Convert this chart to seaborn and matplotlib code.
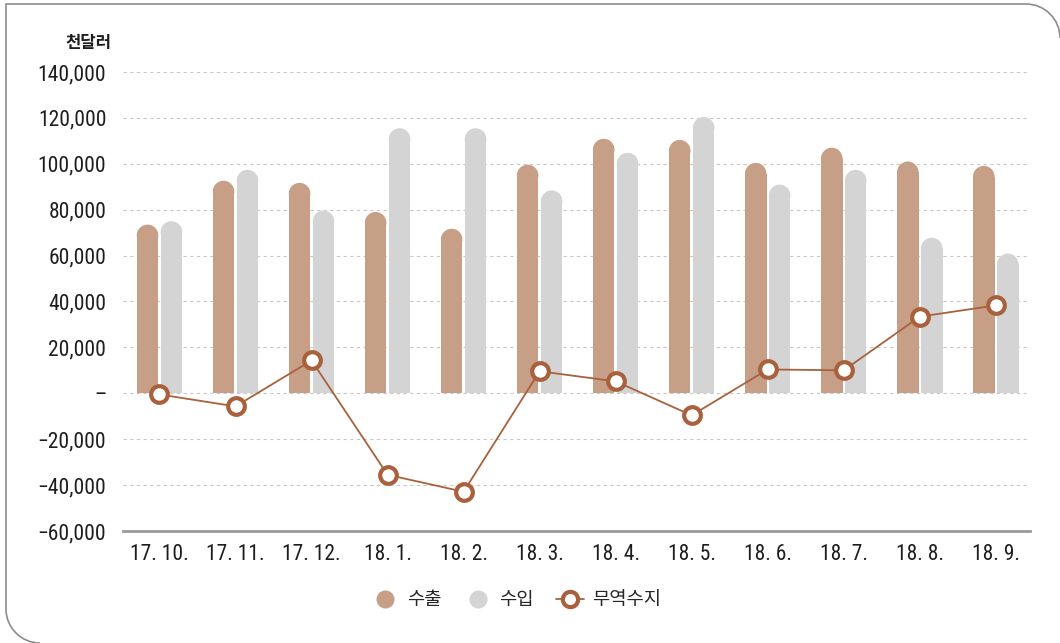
import numpy as np
import pandas as pd
import matplotlib
matplotlib.use("Agg")
import matplotlib.pyplot as plt
from matplotlib.patches import Ellipse, Rectangle, PathPatch
from matplotlib.path import Path
from matplotlib.lines import Line2D
from matplotlib.ticker import FuncFormatter
import seaborn as sns

# 월별 수출입 실적 (천달러)
months = ["17. 10.", "17. 11.", "17. 12.", "18. 1.", "18. 2.", "18. 3.",
          "18. 4.", "18. 5.", "18. 6.", "18. 7.", "18. 8.", "18. 9."]
exports = [73500, 92600, 91700, 79000, 71700, 99600,
           110900, 110400, 100400, 107000, 101000, 99100]
imports = [75000, 97400, 79600, 115500, 115500, 88400,
           104800, 120400, 90900, 97400, 67800, 60900]
balance = [-500, -5700, 14300, -35500, -42900, 9600,
           5200, -9600, 10400, 10000, 33400, 38300]

series_names = ["수출", "수입", "무역수지"]
unit_label = "천달러"
y_ticks = [-60000, -40000, -20000, 0, 20000, 40000, 60000, 80000,
           100000, 120000, 140000]

EXP_COLOR = "#C69F86"
IMP_COLOR = "#D4D4D4"
LINE_COLOR = "#A9613D"
TEXT_COLOR = "#1E1E1E"
KR_FONT = ["Noto Sans CJK KR", "DejaVu Sans"]

sns.set_theme(style="white")
plt.rcParams["font.family"] = ["Roboto Condensed", "Noto Sans CJK KR", "DejaVu Sans"]
plt.rcParams["axes.unicode_minus"] = True

W, H = 1060, 643
fig = plt.figure(figsize=(W / 100, H / 100), dpi=100)
ax = fig.add_axes([123 / W, 1 - 531 / H, (1030 - 123) / W, (531 - 72) / H])

df = pd.DataFrame({
    "month": months * 2,
    "value": exports + imports,
    "kind": [series_names[0]] * len(months) + [series_names[1]] * len(months),
})
sns.barplot(data=df, x="month", y="value", hue="kind",
            palette=[EXP_COLOR, IMP_COLOR], width=0.63, gap=0.1,
            ax=ax, legend=False, saturation=1)

ax.set_xlim(-0.48, 11.45)
ax.set_ylim(-60000, 140000)

# 막대 윗부분을 둥글게 다시 그림
fig.canvas.draw()
px_per_y = (ax.transData.transform((0, 1000))[1]
            - ax.transData.transform((0, 0))[1]) / 1000.0
for p in list(ax.patches):
    x0 = p.get_x()
    w = p.get_width()
    h = p.get_height()
    color = p.get_facecolor()
    px_w = ax.transData.transform((w, 0))[0] - ax.transData.transform((0, 0))[0]
    r_y = (px_w / 2) / px_per_y
    p.set_visible(False)
    ax.add_patch(Rectangle((x0, 0), w, h - r_y, facecolor=color,
                           edgecolor="none", zorder=2))
    ax.add_patch(Ellipse((x0 + w / 2, h - r_y), w, 2 * r_y, facecolor=color,
                         edgecolor="none", zorder=2))

# 무역수지 선
xs = np.arange(len(months))
sns.lineplot(x=xs, y=balance, ax=ax, color=LINE_COLOR, linewidth=1.3,
             marker="o", markersize=12, markerfacecolor="white",
             markeredgecolor=LINE_COLOR, markeredgewidth=3, zorder=5)

# 격자선과 축
ax.set_yticks(y_ticks)
ax.yaxis.grid(True, linestyle=(0, (3, 3)), color="#C8C8C8", linewidth=0.8)
ax.set_axisbelow(True)
for s in ["top", "right", "left"]:
    ax.spines[s].set_visible(False)
ax.spines["bottom"].set_color("#9A9A9A")
ax.spines["bottom"].set_linewidth(2)


def fmt(v, pos):
    if v == 0:
        return "–"
    s = f"{abs(int(v)):,}"
    return ("−" + s) if v < 0 else s


ax.yaxis.set_major_formatter(FuncFormatter(fmt))
ax.tick_params(axis="y", length=0, pad=12, labelsize=15.5, labelcolor=TEXT_COLOR)
ax.tick_params(axis="x", length=0, pad=9, labelsize=15.5, labelcolor=TEXT_COLOR)
ax.set_xlabel("")
ax.set_ylabel("")

fig.text(112 / W, 1 - 43 / H, unit_label, ha="right", va="center",
         fontsize=12, fontweight="bold", color=TEXT_COLOR, family=KR_FONT)

# 범례
handles = [
    Line2D([], [], linestyle="none", marker="o", markersize=12,
           markerfacecolor=EXP_COLOR, markeredgecolor=EXP_COLOR),
    Line2D([], [], linestyle="none", marker="o", markersize=12,
           markerfacecolor=IMP_COLOR, markeredgecolor=IMP_COLOR),
    Line2D([], [], color=LINE_COLOR, linewidth=1.3, marker="o", markersize=11,
           markerfacecolor="white", markeredgecolor=LINE_COLOR,
           markeredgewidth=3),
]
fig.legend(handles, series_names, loc="center", ncol=3,
           bbox_to_anchor=(516 / W, 1 - 600 / H), frameon=False,
           prop={"family": KR_FONT, "size": 13.5},
           handlelength=1.5, handletextpad=0.4, columnspacing=1.2)

# 바깥 테두리: 위쪽과 왼쪽 선, 오른쪽 위와 왼쪽 아래는 둥근 모서리
L, T, R, B = 6, 4, W, H
rad = 34
k = 0.5523 * rad
verts = [
    (R, T + rad),
    (R, T + rad - k), (R - rad + k, T), (R - rad, T),
    (L, T),
    (L, B - rad),
    (L, B - rad + k), (L + rad - k, B), (L + rad, B),
]
codes = [Path.MOVETO,
         Path.CURVE4, Path.CURVE4, Path.CURVE4,
         Path.LINETO,
         Path.LINETO,
         Path.CURVE4, Path.CURVE4, Path.CURVE4]
verts_fig = [(x / W, 1 - y / H) for x, y in verts]
border = PathPatch(Path(verts_fig, codes), transform=fig.transFigure,
                   facecolor="none", edgecolor="#8C8C8C", linewidth=1.2,
                   clip_on=False)
fig.patches.append(border)

fig.savefig("out.png", dpi=100)
